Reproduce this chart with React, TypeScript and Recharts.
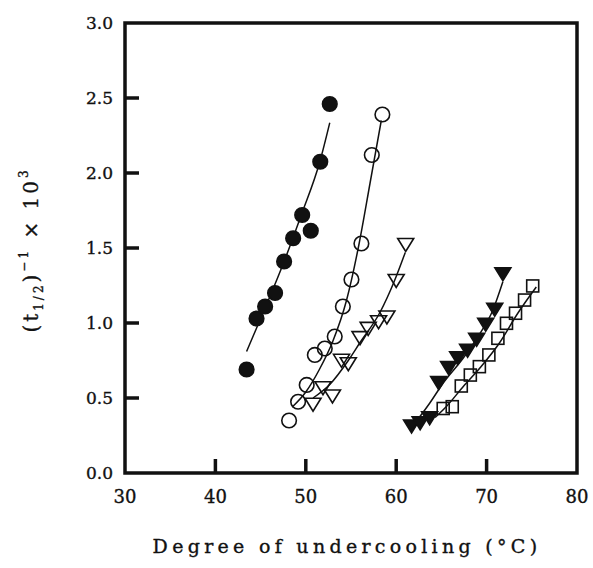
import { ComposedChart, Line, ReferenceArea, Scatter, XAxis, YAxis } from "recharts";

// measured points, x = degree of undercooling, y = 1/t½ x 10^3
const filledCircleX = [43.45, 44.55, 45.5, 46.6, 47.6, 48.6, 49.6, 50.55, 51.6, 52.65];
const filledCircleY = [0.69, 1.03, 1.11, 1.2, 1.41, 1.565, 1.72, 1.615, 2.075, 2.46];

const openCircleX = [48.15, 49.15, 50.1, 51.0, 52.1, 53.2, 54.1, 55.05, 56.15, 57.3, 58.47];
const openCircleY = [0.35, 0.475, 0.587, 0.787, 0.83, 0.91, 1.11, 1.29, 1.53, 2.12, 2.39];

const openTriX = [50.8, 51.9, 52.95, 53.95, 54.7, 56.0, 56.9, 58.05, 58.97, 60.0, 61.05];
const openTriY = [0.465, 0.575, 0.52, 0.758, 0.735, 0.909, 0.971, 1.015, 1.047, 1.29, 1.53];

const filledTriX = [61.7, 62.65, 63.7, 64.7, 65.8, 66.8, 67.9, 68.9, 69.9, 70.9, 71.8];
const filledTriY = [0.32, 0.342, 0.375, 0.609, 0.709, 0.775, 0.825, 0.898, 0.998, 1.098, 1.335];

const squareX = [65.2, 66.2, 67.2, 68.2, 69.2, 70.25, 71.25, 72.2, 73.2, 74.2, 75.1];
const squareY = [0.43, 0.442, 0.58, 0.653, 0.709, 0.787, 0.898, 0.998, 1.065, 1.153, 1.247];

// fitted curves
const fitFilledCircleX = [43.45, 45.5, 47.6, 49.5, 51.55, 52.65];
const fitFilledCircleY = [0.81, 1.1, 1.41, 1.72, 2.075, 2.335];

const fitOpenCircleX = [48.5, 50, 51.5, 53, 54.5, 55.9, 57.1, 58.35];
const fitOpenCircleY = [0.44, 0.54, 0.69, 0.88, 1.15, 1.53, 1.93, 2.35];

const fitOpenTriX = [50.8, 52.65, 54.7, 56, 58.2, 59.8, 61];
const fitOpenTriY = [0.5, 0.59, 0.75, 0.87, 1.07, 1.28, 1.47];

const fitFilledTriX = [61.85, 62.6, 63.7, 65.2, 67.4, 69.05, 70.7, 71.8];
const fitFilledTriY = [0.32, 0.375, 0.465, 0.6, 0.765, 0.91, 1.087, 1.275];

const fitSquareX = [64.3, 65.5, 67.4, 69.4, 71.4, 73.45, 75.5];
const fitSquareY = [0.37, 0.44, 0.575, 0.71, 0.865, 1.065, 1.24];

const xTicks = [30, 40, 50, 60, 70, 80];
const yTicks = [0, 0.5, 1, 1.5, 2, 2.5, 3];

const zip = (xs: number[], ys: number[]) => xs.map((x, i) => ({ x, y: ys[i] }));

const FONT = "'DejaVu Serif', 'Liberation Serif', serif";
const INK = "#111";
// the scan's text is a little heavier than the regular face
const heavy = { stroke: INK, strokeWidth: 0.35 };

const XTick = ({ x, y, payload }: any) => {
  const v = payload.value;
  const inner = v !== xTicks[0] && v !== xTicks[xTicks.length - 1];
  return (
    <g>
      {inner && <line x1={x} x2={x} y1={y} y2={y - 14} stroke={INK} strokeWidth={3.5} />}
      <text x={x} y={y + 30} textAnchor="middle" fontFamily={FONT} fontSize={18} fill={INK} {...heavy}>
        {v}
      </text>
    </g>
  );
};

const YTick = ({ x, y, payload }: any) => {
  const v = payload.value;
  const inner = v !== yTicks[0] && v !== yTicks[yTicks.length - 1];
  return (
    <g>
      {inner && <line x1={x} x2={x + 14} y1={y} y2={y} stroke={INK} strokeWidth={3.5} />}
      <text x={x - 12} y={y + 6} textAnchor="end" fontFamily={FONT} fontSize={17} fill={INK} {...heavy}>
        {v.toFixed(1)}
      </text>
    </g>
  );
};

const YLabel = () => (
  <text
    transform="translate(38, 250) rotate(-90)"
    textAnchor="middle"
    fontFamily={FONT}
    fontSize={20}
    fill={INK}
    letterSpacing={3}
    {...heavy}
  >
    <tspan>(t</tspan>
    <tspan fontSize={12} dy={5}>1/2</tspan>
    <tspan dy={-5}>)</tspan>
    <tspan fontSize={12} dy={-10}>−1</tspan>
    <tspan dy={10}> × 10</tspan>
    <tspan fontSize={12} dy={-10}>3</tspan>
  </text>
);

const XLabel = () => (
  <text x={347} y={553} textAnchor="middle" fontFamily={FONT} fontSize={19} fill={INK} letterSpacing={4.3} {...heavy}>
    Degree of undercooling (°C)
  </text>
);

const Dot = ({ cx, cy, fill }: any) => (
  <circle cx={cx} cy={cy} r={7.3} fill={fill} stroke={INK} strokeWidth={1.6} />
);

const DownTri = ({ cx, cy, fill }: any) => (
  <path
    d={`M${cx - 8},${cy - 5} L${cx + 8},${cy - 5} L${cx},${cy + 8} Z`}
    fill={fill}
    stroke={INK}
    strokeWidth={1.6}
    strokeLinejoin="miter"
  />
);

const Square = ({ cx, cy }: any) => (
  <rect x={cx - 6} y={cy - 6} width={12} height={12} fill="none" stroke={INK} strokeWidth={1.6} />
);

const fits = [
  zip(fitFilledCircleX, fitFilledCircleY),
  zip(fitOpenCircleX, fitOpenCircleY),
  zip(fitOpenTriX, fitOpenTriY),
  zip(fitFilledTriX, fitFilledTriY),
  zip(fitSquareX, fitSquareY),
];

export default function App() {
  return (
    <div style={{ position: "absolute", left: 0, top: 0, background: "#fff" }}>
      <ComposedChart width={593} height={568} margin={{ top: 23, right: 16, left: 0, bottom: 0 }}>
        <XAxis
          type="number"
          dataKey="x"
          domain={[30, 80]}
          ticks={xTicks}
          interval={0}
          height={95}
          tickSize={0}
          tickMargin={0}
          tickLine={false}
          axisLine={false}
          tick={<XTick />}
          label={<XLabel />}
          allowDataOverflow
        />
        <YAxis
          type="number"
          dataKey="y"
          domain={[0, 3]}
          ticks={yTicks}
          interval={0}
          width={125}
          tickSize={0}
          tickMargin={0}
          tickLine={false}
          axisLine={false}
          tick={<YTick />}
          label={<YLabel />}
          allowDataOverflow
        />
        <ReferenceArea x1={30} x2={80} y1={0} y2={3} fill="none" fillOpacity={0} stroke={INK} strokeWidth={3.5} />
        {fits.map((d, i) => (
          <Line
            key={i}
            data={d}
            dataKey="y"
            type="monotone"
            stroke={INK}
            strokeWidth={1.5}
            dot={false}
            activeDot={false}
            isAnimationActive={false}
          />
        ))}
        <Scatter data={zip(filledCircleX, filledCircleY)} dataKey="y" fill={INK} shape={<Dot fill={INK} />} isAnimationActive={false} />
        <Scatter data={zip(openCircleX, openCircleY)} dataKey="y" shape={<Dot fill="none" />} isAnimationActive={false} />
        <Scatter data={zip(openTriX, openTriY)} dataKey="y" shape={<DownTri fill="none" />} isAnimationActive={false} />
        <Scatter data={zip(filledTriX, filledTriY)} dataKey="y" shape={<DownTri fill={INK} />} isAnimationActive={false} />
        <Scatter data={zip(squareX, squareY)} dataKey="y" shape={<Square />} isAnimationActive={false} />
      </ComposedChart>
    </div>
  );
}
